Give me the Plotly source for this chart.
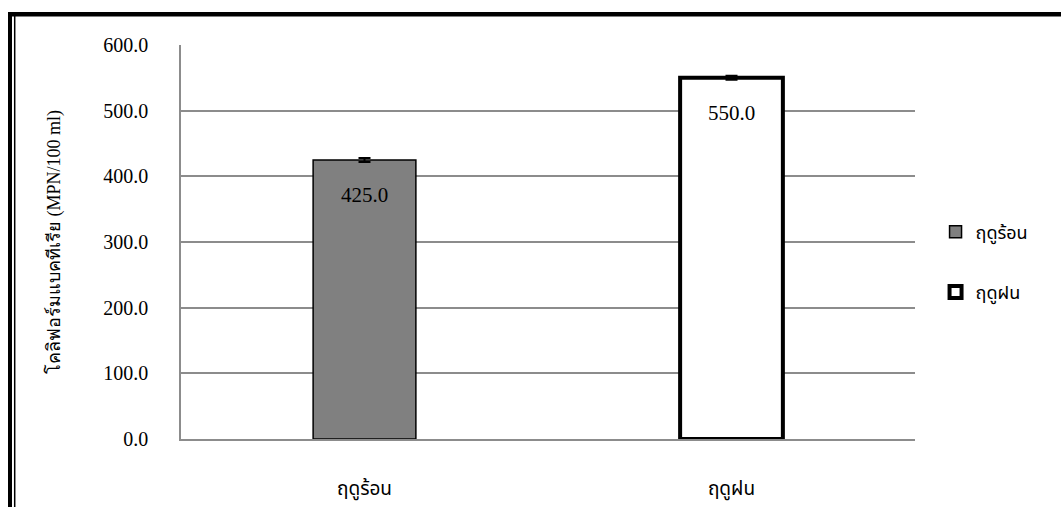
import plotly.graph_objects as go

# Coliform counts by season
seasons = ["ฤดูร้อน", "ฤดูฝน"]
coliform = [425.0, 550.0]
coliform_err = [3.0, 3.0]
bar_fill = ["#808080", "#ffffff"]
bar_edge = [1.5, 4]

y_ticks = [0, 100, 200, 300, 400, 500, 600]
y_tick_text = [f"{v:.1f}" for v in y_ticks]

SERIF = "Times New Roman, Liberation Serif, serif"
THAI = "Tahoma, Noto Sans Thai, Loma, Garuda, sans-serif"

fig = go.Figure()
for name, val, err, fill, lw in zip(seasons, coliform, coliform_err, bar_fill, bar_edge):
    fig.add_trace(go.Bar(
        x=[name], y=[val], name=name, width=0.28,
        marker=dict(color=fill, line=dict(color="black", width=lw)),
        error_y=dict(type="data", array=[err], color="black", thickness=2, width=6),
        legendgroup=name,
    ))
    # value label just inside the top of each bar
    fig.add_annotation(x=name, y=val, text=f"{val:.1f}", showarrow=False,
                       yshift=-35, font=dict(family=SERIF, size=21, color="black"))

W, H = 1061, 507
L, R, T, B = 181, 146, 45, 68
pw, ph = W - L - R, H - T - B

def px(x):
    return (x - L) / pw

def py(y):
    return 1 - (y - T) / ph

# page frame: heavy top rule, double rule on the left
frame = [
    dict(x0=px(8), x1=px(1070), y0=py(14.3), y1=py(14.3), w=4.5),
    dict(x0=px(10), x1=px(10), y0=py(12), y1=py(520), w=4),
    dict(x0=px(14.7), x1=px(14.7), y0=py(16), y1=py(520), w=1.5),
]
for f in frame:
    fig.add_shape(type="line", xref="paper", yref="paper",
                  x0=f["x0"], x1=f["x1"], y0=f["y0"], y1=f["y1"],
                  line=dict(color="black", width=f["w"]))

fig.update_layout(
    width=W, height=H,
    margin=dict(l=L, r=R, t=T, b=B, pad=0, autoexpand=False),
    paper_bgcolor="white", plot_bgcolor="white",
    barmode="overlay",
    showlegend=True,
    legend=dict(x=1.028, y=py(262), xanchor="left", yanchor="middle",
                font=dict(family=THAI, size=18, color="black"),
                tracegroupgap=34, traceorder="grouped",
                bgcolor="rgba(0,0,0,0)"),
    font=dict(family=SERIF, color="black"),
)
fig.update_xaxes(
    automargin=False,
    showgrid=False, showline=True, linecolor="#8c8c8c", linewidth=1.5,
    ticks="", ticklabelstandoff=31,
    tickfont=dict(family=THAI, size=19, color="black"),
)
fig.update_yaxes(
    automargin=False,
    range=[0, 600], tickvals=y_ticks, ticktext=y_tick_text,
    showgrid=True, gridcolor="#8c8c8c", gridwidth=1.5,
    showline=True, linecolor="#8c8c8c", linewidth=1.5,
    zeroline=False, ticks="", ticklabelstandoff=27,
    tickfont=dict(family=SERIF, size=20, color="black"),
    title=dict(text="โคลิฟอร์มแบคทีเรีย (MPN/100 ml)", standoff=38,
               font=dict(family=SERIF, size=18, color="black")),
)

fig.write_html("out.html")
